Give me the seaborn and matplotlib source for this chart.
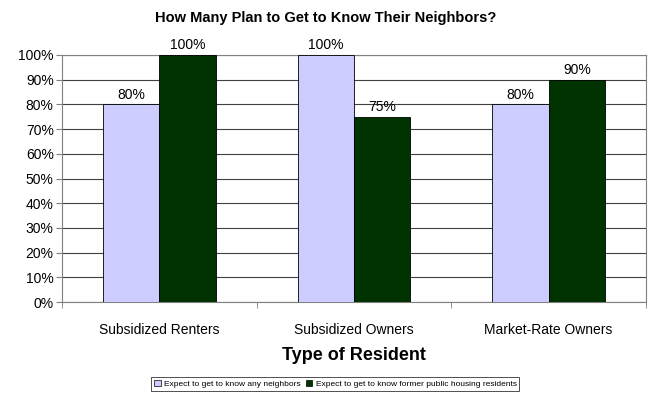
import pandas as pd
import numpy as np
import seaborn as sns
import matplotlib.pyplot as plt

categories = ['Subsidized Renters', 'Subsidized Owners', 'Market-Rate Owners']
any_neighbors = [80, 100, 80]
former_residents = [100, 75, 90]
series_names = ['Expect to get to know any neighbors',
                'Expect to get to know former public housing residents']

df = pd.DataFrame({
    'Type of Resident': categories * 2,
    'Percent': any_neighbors + former_residents,
    'Series': [series_names[0]] * 3 + [series_names[1]] * 3,
})

sns.set_style('white')
plt.rcParams['font.family'] = ['Liberation Sans', 'DejaVu Sans']
plt.rcParams.update({'text.color': 'black', 'axes.labelcolor': 'black',
                     'xtick.color': 'black', 'ytick.color': 'black'})

fig = plt.figure(figsize=(6.51, 3.98), dpi=100)
ax = fig.add_axes([62 / 651, 1 - 302 / 398, 584 / 651, 247 / 398])

sns.barplot(data=df, x='Type of Resident', y='Percent', hue='Series',
            palette=['#CCCCFF', '#003300'], saturation=1, width=0.58, gap=0,
            edgecolor='black', linewidth=0.6, ax=ax, legend=False, zorder=3)

# value labels over bars
for cont in ax.containers:
    ax.bar_label(cont, labels=[f'{v:.0f}%' for v in cont.datavalues],
                 fontsize=10, padding=2)

ax.set_ylim(0, 100)
ax.set_xlim(-0.5, 2.5)
ax.set_yticks(np.arange(0, 101, 10))
ax.set_yticklabels([f'{v}%' for v in range(0, 101, 10)], fontsize=10)
ax.yaxis.grid(True, color='#404040', linewidth=0.8, zorder=0)
ax.set_axisbelow(True)

ax.set_xticks(range(3))
ax.set_xticklabels(categories, fontsize=10)
ax.set_xticks([-0.5, 0.5, 1.5, 2.5], minor=True)
ax.tick_params(axis='x', which='major', length=0, pad=15)
ax.tick_params(axis='x', which='minor', length=4, color='#808080', direction='out', bottom=True)
ax.tick_params(axis='y', length=4, color='#808080', direction='out', left=True, pad=2)

for side in ['left', 'bottom', 'top', 'right']:
    ax.spines[side].set_color('#808080')
    ax.spines[side].set_visible(True)

ax.set_xlabel('Type of Resident', fontsize=13, fontweight='bold', labelpad=7)
ax.set_ylabel('')

fig.text(0.5, 1 - 18 / 398, 'How Many Plan to Get to Know Their Neighbors?',
         ha='center', va='center', fontsize=10.5, fontweight='bold')

handles = [plt.Rectangle((0, 0), 1, 1, facecolor=c, edgecolor='black', linewidth=0.5)
           for c in ['#CCCCFF', '#003300']]
leg = fig.legend(handles, series_names, loc='center', bbox_to_anchor=(0.515, 1 - 384 / 398),
                 ncol=2, fontsize=6, frameon=True, fancybox=False, edgecolor='black',
                 handlelength=0.8, handleheight=0.8, handletextpad=0.4, columnspacing=0.6,
                 borderpad=0.3, borderaxespad=0)
leg.get_frame().set_linewidth(0.6)

fig.savefig('out.png', dpi=100)
